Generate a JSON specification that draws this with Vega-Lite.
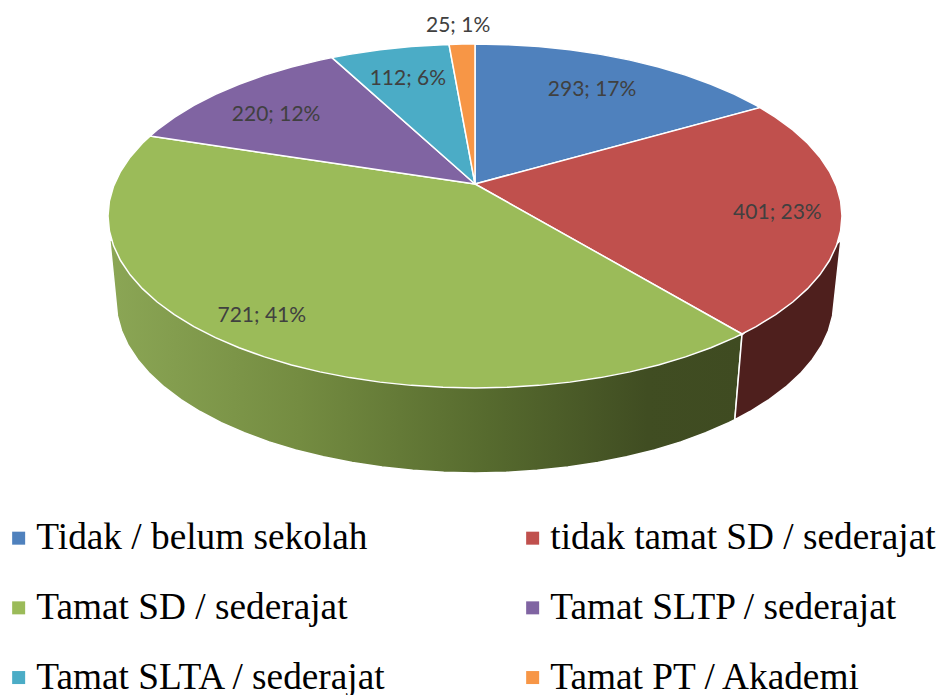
{
"$schema":"https://vega.github.io/schema/vega-lite/v6.json",
"width":941,"height":695,"padding":0,
"autosize":{"type":"none"},
"config":{"view":{"stroke":null}},
"background":"white",
"datasets":{
"slices":[
{"category":"Tidak / belum sekolah","value":293,"label":"293; 17%","lu":0.319,"lv":0.744},
{"category":"tidak tamat SD / sederajat","value":401,"label":"401; 23%","lu":0.824,"lv":0.029},
{"category":"Tamat SD / sederajat","value":721,"label":"721; 41%","lu":-0.581,"lv":-0.57},
{"category":"Tamat SLTP / sederajat","value":220,"label":"220; 12%","lu":-0.542,"lv":0.599},
{"category":"Tamat SLTA / sederajat","value":112,"label":"112; 6%","lu":-0.183,"lv":0.808},
{"category":"Tamat PT / Akademi","value":25,"label":"25; 1%","lu":-0.046,"lv":1.116}
],
"wallGreen":[
{"i":0,"u":-0.995,"v":-0.14},{"i":1,"u":-0.9743,"v":-0.581},{"i":2,"u":-0.9631,"v":-0.6676},{"i":3,"u":-0.9447,"v":-0.7528},{"i":4,"u":-0.919,"v":-0.836},{"i":5,"u":-0.8864,"v":-0.9166},{"i":6,"u":-0.847,"v":-0.994},{"i":7,"u":-0.8012,"v":-1.0676},{"i":8,"u":-0.7492,"v":-1.1368},{"i":9,"u":-0.6915,"v":-1.2011},{"i":10,"u":-0.6286,"v":-1.26},{"i":11,"u":-0.561,"v":-1.3132},{"i":12,"u":-0.489,"v":-1.36},{"i":13,"u":-0.4133,"v":-1.4003},{"i":14,"u":-0.3345,"v":-1.4337},{"i":15,"u":-0.2531,"v":-1.4599},{"i":16,"u":-0.1698,"v":-1.4788},{"i":17,"u":-0.0853,"v":-1.4902},{"i":18,"u":0,"v":-1.494},{"i":19,"u":0.0853,"v":-1.4902},{"i":20,"u":0.1698,"v":-1.4788},{"i":21,"u":0.2531,"v":-1.4599},{"i":22,"u":0.3345,"v":-1.4337},{"i":23,"u":0.4133,"v":-1.4003},{"i":24,"u":0.489,"v":-1.36},{"i":25,"u":0.561,"v":-1.3132},{"i":26,"u":0.6286,"v":-1.26},{"i":27,"u":0.6915,"v":-1.2011},{"i":28,"u":0.708,"v":-1.184},{"i":29,"u":0.7275,"v":-0.692},{"i":30,"u":-0.995,"v":-0.14}
],
"wallRed":[
{"i":0,"u":0.7275,"v":-0.692},{"i":1,"u":0.708,"v":-1.184},{"i":2,"u":0.7492,"v":-1.1368},{"i":3,"u":0.8012,"v":-1.0676},{"i":4,"u":0.847,"v":-0.994},{"i":5,"u":0.8864,"v":-0.9166},{"i":6,"u":0.919,"v":-0.836},{"i":7,"u":0.9447,"v":-0.7528},{"i":8,"u":0.9631,"v":-0.6676},{"i":9,"u":0.9743,"v":-0.581},{"i":10,"u":0.997,"v":-0.14},{"i":11,"u":0.7275,"v":-0.692}
],
"outline":[
{"category":"Tidak / belum sekolah","i":0,"u":0,"v":0.186},{"category":"Tidak / belum sekolah","i":1,"u":0,"v":1},{"category":"Tidak / belum sekolah","i":2,"u":0.0872,"v":0.9962},{"category":"Tidak / belum sekolah","i":3,"u":0.1736,"v":0.9848},{"category":"Tidak / belum sekolah","i":4,"u":0.2588,"v":0.9659},{"category":"Tidak / belum sekolah","i":5,"u":0.342,"v":0.9397},{"category":"Tidak / belum sekolah","i":6,"u":0.4226,"v":0.9063},{"category":"Tidak / belum sekolah","i":7,"u":0.5,"v":0.866},{"category":"Tidak / belum sekolah","i":8,"u":0.5736,"v":0.8192},{"category":"Tidak / belum sekolah","i":9,"u":0.6428,"v":0.766},{"category":"Tidak / belum sekolah","i":10,"u":0.7071,"v":0.7071},{"category":"Tidak / belum sekolah","i":11,"u":0.766,"v":0.6428},{"category":"Tidak / belum sekolah","i":12,"u":0.7766,"v":0.63},{"category":"Tidak / belum sekolah","i":13,"u":0,"v":0.186},
{"category":"tidak tamat SD / sederajat","i":0,"u":0,"v":0.186},{"category":"tidak tamat SD / sederajat","i":1,"u":0.7766,"v":0.63},{"category":"tidak tamat SD / sederajat","i":2,"u":0.8192,"v":0.5736},{"category":"tidak tamat SD / sederajat","i":3,"u":0.866,"v":0.5},{"category":"tidak tamat SD / sederajat","i":4,"u":0.9063,"v":0.4226},{"category":"tidak tamat SD / sederajat","i":5,"u":0.9397,"v":0.342},{"category":"tidak tamat SD / sederajat","i":6,"u":0.9659,"v":0.2588},{"category":"tidak tamat SD / sederajat","i":7,"u":0.9848,"v":0.1736},{"category":"tidak tamat SD / sederajat","i":8,"u":0.9962,"v":0.0872},{"category":"tidak tamat SD / sederajat","i":9,"u":1,"v":0},{"category":"tidak tamat SD / sederajat","i":10,"u":0.9962,"v":-0.0872},{"category":"tidak tamat SD / sederajat","i":11,"u":0.9848,"v":-0.1736},{"category":"tidak tamat SD / sederajat","i":12,"u":0.9659,"v":-0.2588},{"category":"tidak tamat SD / sederajat","i":13,"u":0.9397,"v":-0.342},{"category":"tidak tamat SD / sederajat","i":14,"u":0.9063,"v":-0.4226},{"category":"tidak tamat SD / sederajat","i":15,"u":0.866,"v":-0.5},{"category":"tidak tamat SD / sederajat","i":16,"u":0.8192,"v":-0.5736},{"category":"tidak tamat SD / sederajat","i":17,"u":0.766,"v":-0.6428},{"category":"tidak tamat SD / sederajat","i":18,"u":0.7275,"v":-0.686},{"category":"tidak tamat SD / sederajat","i":19,"u":0,"v":0.186},
{"category":"Tamat SD / sederajat","i":0,"u":0,"v":0.186},{"category":"Tamat SD / sederajat","i":1,"u":0.7275,"v":-0.686},{"category":"Tamat SD / sederajat","i":2,"u":0.7071,"v":-0.7071},{"category":"Tamat SD / sederajat","i":3,"u":0.6428,"v":-0.766},{"category":"Tamat SD / sederajat","i":4,"u":0.5736,"v":-0.8192},{"category":"Tamat SD / sederajat","i":5,"u":0.5,"v":-0.866},{"category":"Tamat SD / sederajat","i":6,"u":0.4226,"v":-0.9063},{"category":"Tamat SD / sederajat","i":7,"u":0.342,"v":-0.9397},{"category":"Tamat SD / sederajat","i":8,"u":0.2588,"v":-0.9659},{"category":"Tamat SD / sederajat","i":9,"u":0.1736,"v":-0.9848},{"category":"Tamat SD / sederajat","i":10,"u":0.0872,"v":-0.9962},{"category":"Tamat SD / sederajat","i":11,"u":0,"v":-1},{"category":"Tamat SD / sederajat","i":12,"u":-0.0872,"v":-0.9962},{"category":"Tamat SD / sederajat","i":13,"u":-0.1736,"v":-0.9848},{"category":"Tamat SD / sederajat","i":14,"u":-0.2588,"v":-0.9659},{"category":"Tamat SD / sederajat","i":15,"u":-0.342,"v":-0.9397},{"category":"Tamat SD / sederajat","i":16,"u":-0.4226,"v":-0.9063},{"category":"Tamat SD / sederajat","i":17,"u":-0.5,"v":-0.866},{"category":"Tamat SD / sederajat","i":18,"u":-0.5736,"v":-0.8192},{"category":"Tamat SD / sederajat","i":19,"u":-0.6428,"v":-0.766},{"category":"Tamat SD / sederajat","i":20,"u":-0.7071,"v":-0.7071},{"category":"Tamat SD / sederajat","i":21,"u":-0.766,"v":-0.6428},{"category":"Tamat SD / sederajat","i":22,"u":-0.8192,"v":-0.5736},{"category":"Tamat SD / sederajat","i":23,"u":-0.866,"v":-0.5},{"category":"Tamat SD / sederajat","i":24,"u":-0.9063,"v":-0.4226},{"category":"Tamat SD / sederajat","i":25,"u":-0.9397,"v":-0.342},{"category":"Tamat SD / sederajat","i":26,"u":-0.9659,"v":-0.2588},{"category":"Tamat SD / sederajat","i":27,"u":-0.9848,"v":-0.1736},{"category":"Tamat SD / sederajat","i":28,"u":-0.9962,"v":-0.0872},{"category":"Tamat SD / sederajat","i":29,"u":-1,"v":0},{"category":"Tamat SD / sederajat","i":30,"u":-0.9962,"v":0.0872},{"category":"Tamat SD / sederajat","i":31,"u":-0.9848,"v":0.1736},{"category":"Tamat SD / sederajat","i":32,"u":-0.9659,"v":0.2588},{"category":"Tamat SD / sederajat","i":33,"u":-0.9397,"v":0.342},{"category":"Tamat SD / sederajat","i":34,"u":-0.9063,"v":0.4226},{"category":"Tamat SD / sederajat","i":35,"u":-0.8856,"v":0.4645},{"category":"Tamat SD / sederajat","i":36,"u":0,"v":0.186},
{"category":"Tamat SLTP / sederajat","i":0,"u":0,"v":0.186},{"category":"Tamat SLTP / sederajat","i":1,"u":-0.8856,"v":0.4645},{"category":"Tamat SLTP / sederajat","i":2,"u":-0.866,"v":0.5},{"category":"Tamat SLTP / sederajat","i":3,"u":-0.8192,"v":0.5736},{"category":"Tamat SLTP / sederajat","i":4,"u":-0.766,"v":0.6428},{"category":"Tamat SLTP / sederajat","i":5,"u":-0.7071,"v":0.7071},{"category":"Tamat SLTP / sederajat","i":6,"u":-0.6428,"v":0.766},{"category":"Tamat SLTP / sederajat","i":7,"u":-0.5736,"v":0.8192},{"category":"Tamat SLTP / sederajat","i":8,"u":-0.5,"v":0.866},{"category":"Tamat SLTP / sederajat","i":9,"u":-0.4226,"v":0.9063},{"category":"Tamat SLTP / sederajat","i":10,"u":-0.3896,"v":0.921},{"category":"Tamat SLTP / sederajat","i":11,"u":0,"v":0.186},
{"category":"Tamat SLTA / sederajat","i":0,"u":0,"v":0.186},{"category":"Tamat SLTA / sederajat","i":1,"u":-0.3896,"v":0.921},{"category":"Tamat SLTA / sederajat","i":2,"u":-0.342,"v":0.9397},{"category":"Tamat SLTA / sederajat","i":3,"u":-0.2588,"v":0.9659},{"category":"Tamat SLTA / sederajat","i":4,"u":-0.1736,"v":0.9848},{"category":"Tamat SLTA / sederajat","i":5,"u":-0.0872,"v":0.9962},{"category":"Tamat SLTA / sederajat","i":6,"u":-0.0708,"v":0.9975},{"category":"Tamat SLTA / sederajat","i":7,"u":0,"v":0.186},
{"category":"Tamat PT / Akademi","i":0,"u":0,"v":0.186},{"category":"Tamat PT / Akademi","i":1,"u":-0.0708,"v":0.9975},{"category":"Tamat PT / Akademi","i":2,"u":-0.0349,"v":0.9994},{"category":"Tamat PT / Akademi","i":3,"u":0,"v":1},{"category":"Tamat PT / Akademi","i":4,"u":0,"v":0.186}
]
},
"layer":[
{"data":{"name":"wallGreen"},
 "mark":{"type":"line","filled":true,"strokeWidth":1.5,"stroke":"white","fill":{"gradient":"linear","x1":0,"y1":0,"x2":1,"y2":0,"stops":[{"offset":0,"color":"#8ba655"},{"offset":0.3,"color":"#748c41"},{"offset":0.6,"color":"#566a2e"},{"offset":0.85,"color":"#404d22"},{"offset":1,"color":"#3f4b21"}]}},
 "encoding":{"x":{"field":"u","type":"quantitative","scale":{"domain":[-1.2943,1.2698],"nice":false,"zero":false},"axis":null},"y":{"field":"v","type":"quantitative","scale":{"domain":[-2.785,1.2558],"nice":false,"zero":false},"axis":null},"order":{"field":"i"}}},
{"data":{"name":"wallRed"},
 "mark":{"type":"line","filled":true,"strokeWidth":1.5,"stroke":"white","fill":"#4e1f1d"},
 "encoding":{"x":{"field":"u","type":"quantitative","scale":{"domain":[-1.2943,1.2698],"nice":false,"zero":false},"axis":null},"y":{"field":"v","type":"quantitative","scale":{"domain":[-2.785,1.2558],"nice":false,"zero":false},"axis":null},"order":{"field":"i"}}},
{"data":{"name":"outline"},
 "mark":{"type":"line","filled":true,"strokeWidth":1.5,"stroke":"white"},
 "encoding":{"x":{"field":"u","type":"quantitative","scale":{"domain":[-1.2943,1.2698],"nice":false,"zero":false},"axis":null},"y":{"field":"v","type":"quantitative","scale":{"domain":[-2.785,1.2558],"nice":false,"zero":false},"axis":null},"order":{"field":"i"},
  "fill":{"field":"category","type":"nominal","scale":{"domain":["Tidak / belum sekolah","tidak tamat SD / sederajat","Tamat SD / sederajat","Tamat SLTP / sederajat","Tamat SLTA / sederajat","Tamat PT / Akademi"],"range":["#4f81bd","#c0504d","#9bbb59","#8064a2","#4bacc6","#f79646"]},
   "legend":{"title":null,"orient":"none","direction":"horizontal","legendX":0,"legendY":519.5,"columns":2,"symbolType":"square","symbolSize":169,"symbolStrokeWidth":0,"labelFont":"Liberation Serif","labelFontSize":37.3,"labelColor":"#000000","labelOffset":-1,"rowPadding":31.7,"columnPadding":127,"labelLimit":500}}}},
{"data":{"name":"slices"},
 "mark":{"type":"text","font":"Lato","fontSize":21,"color":"#404040","dy":2},
 "encoding":{"x":{"field":"lu","type":"quantitative","scale":{"domain":[-1.2943,1.2698],"nice":false,"zero":false},"axis":null},"y":{"field":"lv","type":"quantitative","scale":{"domain":[-2.785,1.2558],"nice":false,"zero":false},"axis":null},"text":{"field":"label"}}}
]
}
